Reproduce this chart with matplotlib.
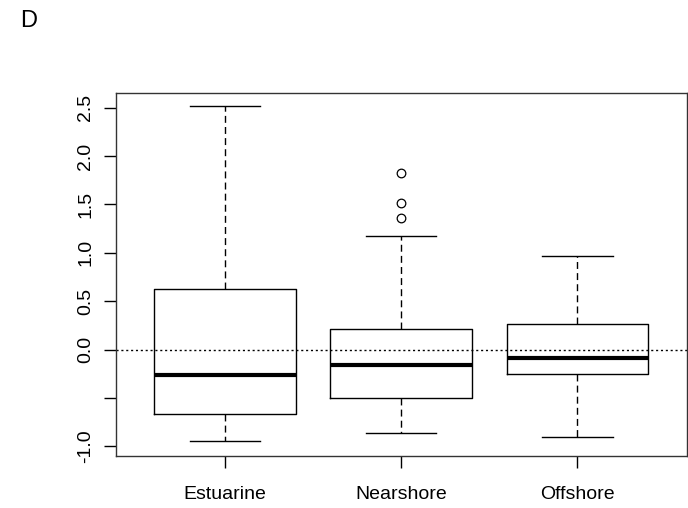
import matplotlib
matplotlib.use("Agg")
import matplotlib.pyplot as plt

# values
groups = ["Estuarine", "Nearshore", "Offshore"]
whislo = [-0.949, -0.866, -0.905]
q1 = [-0.663, -0.497, -0.248]
med = [-0.266, -0.155, -0.083]
q3 = [0.624, 0.213, 0.269]
whishi = [2.522, 1.173, 0.969]
fliers = [[], [1.83, 1.516, 1.365], []]

yticks = [-1.0, -0.5, 0.0, 0.5, 1.0, 1.5, 2.0, 2.5]
ytick_labels = ["-1.0", "", "0.0", "0.5", "1.0", "1.5", "2.0", "2.5"]

plt.rcParams['font.family'] = ['Liberation Sans', 'DejaVu Sans']

fig = plt.figure(figsize=(6.88, 5.08), dpi=100)
ax = fig.add_axes([0.1682, 0.1024, 0.830, 0.7152])

stats = []
for i in range(len(groups)):
    stats.append(dict(label=groups[i], med=med[i], q1=q1[i], q3=q3[i],
                      whislo=whislo[i], whishi=whishi[i], fliers=fliers[i]))

ax.bxp(stats, positions=[1, 2, 3], widths=0.805, capwidths=0.4,
       boxprops=dict(color="black", linewidth=1.0),
       medianprops=dict(color="black", linewidth=3.0, solid_capstyle="butt"),
       whiskerprops=dict(color="black", linewidth=1.0, linestyle=(0, (5, 3))),
       capprops=dict(color="black", linewidth=1.0),
       flierprops=dict(marker="o", markerfacecolor="none", markeredgecolor="black",
                       markersize=6.2, markeredgewidth=0.9))

ax.axhline(0, color="black", linewidth=1.0, linestyle=(0, (1.5, 2)), zorder=0)

ax.set_xlim(0.38, 3.62)
ax.set_ylim(-1.10, 2.656)
ax.set_yticks(yticks)
ax.set_yticklabels(ytick_labels, rotation=90, va="center")
ax.tick_params(axis="y", length=8.6, width=1.0, pad=7, labelsize=14)
ax.tick_params(axis="x", length=8.6, width=1.0, pad=13, labelsize=14)

for s in ax.spines.values():
    s.set_linewidth(1.0)
    s.set_color("#333333")

fig.text(20 / 688, 1 - 27 / 508, "D", fontsize=17, va="baseline", ha="left")

fig.savefig("out.png", dpi=100)
